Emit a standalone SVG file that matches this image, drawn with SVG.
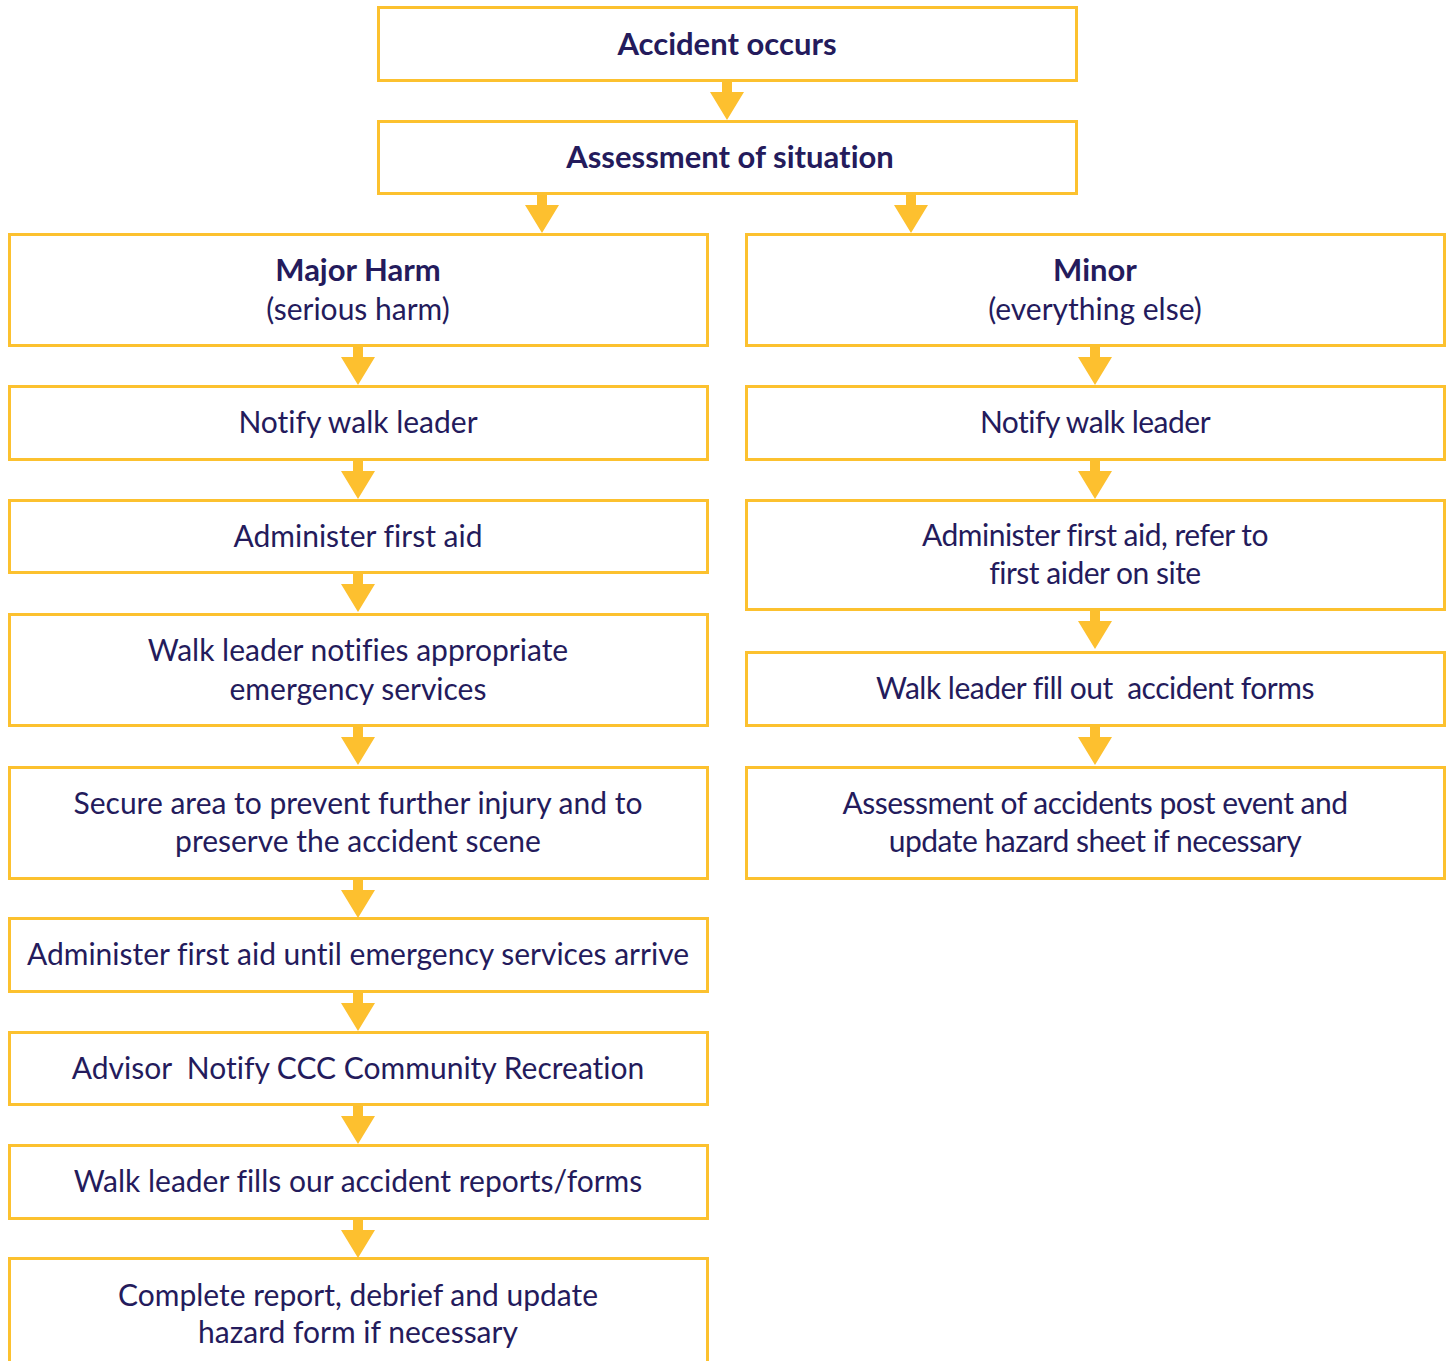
<svg xmlns="http://www.w3.org/2000/svg" width="1453" height="1361" viewBox="0 0 1453 1361">
<defs>
<style>
.box{fill:#ffffff;stroke:#FCC12F;stroke-width:3}
.t{font-family:Lato,"Source Sans Pro","Noto Sans",sans-serif;font-size:30px;fill:#241B5C;text-anchor:middle;font-variant-ligatures:none;white-space:pre}
.b{font-weight:bold;font-size:31px}
.c{letter-spacing:-0.5px}
.arr{fill:#FDC02F}
</style>
<path id="ar" d="M-5,0 H5 V11 H17 L0,39 L-17,11 H-5 Z"/>
</defs>
<rect width="1453" height="1361" fill="#ffffff"/>
<g id="connectors" class="arr">
<use href="#ar" x="727" y="81"/>
<use href="#ar" x="542" y="194"/>
<use href="#ar" x="911" y="194"/>
<use href="#ar" x="358" y="346"/>
<use href="#ar" x="358" y="460"/>
<use href="#ar" x="358" y="573"/>
<use href="#ar" x="358" y="726"/>
<use href="#ar" x="358" y="879"/>
<use href="#ar" x="358" y="992"/>
<use href="#ar" x="358" y="1105"/>
<use href="#ar" x="358" y="1219"/>
<use href="#ar" x="1095" y="346"/>
<use href="#ar" x="1095" y="460"/>
<use href="#ar" x="1095" y="610"/>
<use href="#ar" x="1095" y="726"/>
</g>
<g id="n-accident"><rect class="box" x="378.5" y="7.5" width="698" height="73"/><text class="t b" x="727" y="55">Accident occurs</text></g>
<g id="n-assessment"><rect class="box" x="378.5" y="121.5" width="698" height="72"/><text class="t b" x="730" y="168">Assessment of situation</text></g>
<g id="n-major"><rect class="box" x="9.5" y="234.5" width="698" height="111"/><text class="t" x="358" y="281"><tspan class="b">Major Harm</tspan><tspan x="358" dy="39">(serious harm)</tspan></text></g>
<g id="n-l-notify"><rect class="box" x="9.5" y="386.5" width="698" height="73"/><text class="t" x="358" y="433">Notify walk leader</text></g>
<g id="n-l-firstaid"><rect class="box" x="9.5" y="500.5" width="698" height="72"/><text class="t" x="358" y="547">Administer first aid</text></g>
<g id="n-l-emergency"><rect class="box" x="9.5" y="614.5" width="698" height="111"/><text class="t" x="358" y="661">Walk leader notifies appropriate<tspan x="358" dy="39">emergency services</tspan></text></g>
<g id="n-l-secure"><rect class="box" x="9.5" y="767.5" width="698" height="111"/><text class="t" x="358" y="814">Secure area to prevent further injury and to<tspan x="358" dy="38">preserve the accident scene</tspan></text></g>
<g id="n-l-until"><rect class="box" x="9.5" y="918.5" width="698" height="73"/><text class="t" x="358" y="965">Administer first aid until emergency services arrive</text></g>
<g id="n-l-advisor"><rect class="box" x="9.5" y="1032.5" width="698" height="72"/><text class="t" x="358" y="1079">Advisor  Notify CCC Community Recreation</text></g>
<g id="n-l-forms"><rect class="box" x="9.5" y="1145.5" width="698" height="73"/><text class="t" x="358" y="1192">Walk leader fills our accident reports/forms</text></g>
<g id="n-l-complete"><rect class="box" x="9.5" y="1258.5" width="698" height="120"/><text class="t" x="358" y="1306">Complete report, debrief and update<tspan x="358" dy="37">hazard form if necessary</tspan></text></g>
<g id="n-minor"><rect class="box" x="746.5" y="234.5" width="698" height="111"/><text class="t" x="1095" y="281"><tspan class="b">Minor</tspan><tspan x="1095" dy="39">(everything else)</tspan></text></g>
<g id="n-r-notify"><rect class="box" x="746.5" y="386.5" width="698" height="73"/><text class="t c" x="1095" y="433">Notify walk leader</text></g>
<g id="n-r-firstaid"><rect class="box" x="746.5" y="500.5" width="698" height="109"/><text class="t c" x="1095" y="546">Administer first aid, refer to<tspan x="1095" dy="38">first aider on site</tspan></text></g>
<g id="n-r-forms"><rect class="box" x="746.5" y="652.5" width="698" height="73"/><text class="t c" x="1095" y="699">Walk leader fill out  accident forms</text></g>
<g id="n-r-post"><rect class="box" x="746.5" y="767.5" width="698" height="111"/><text class="t c" x="1095" y="814">Assessment of accidents post event and<tspan x="1095" dy="38">update hazard sheet if necessary</tspan></text></g>
</svg>
